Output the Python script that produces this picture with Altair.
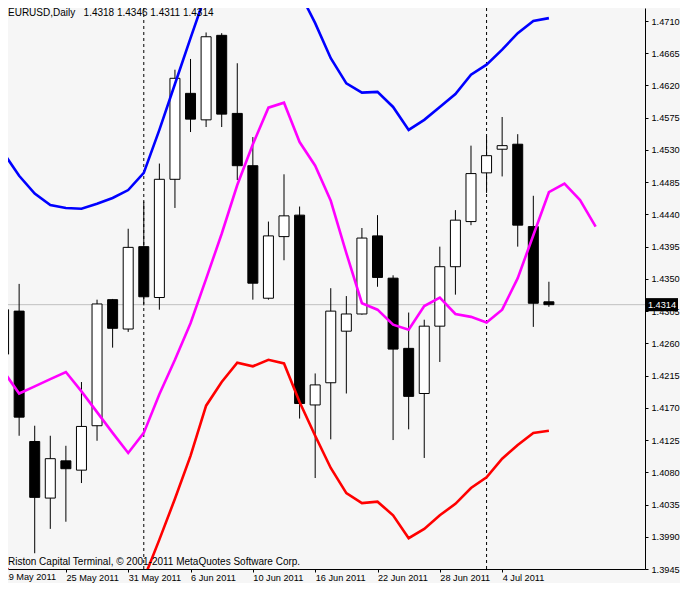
import altair as alt
import pandas as pd

# ---- data ----
dates = ["19 May 2011", "20 May 2011", "23 May 2011", "24 May 2011", "25 May 2011",
         "26 May 2011", "27 May 2011", "30 May 2011", "31 May 2011", "1 Jun 2011",
         "2 Jun 2011", "3 Jun 2011", "6 Jun 2011", "7 Jun 2011", "8 Jun 2011",
         "9 Jun 2011", "10 Jun 2011", "13 Jun 2011", "14 Jun 2011", "15 Jun 2011",
         "16 Jun 2011", "17 Jun 2011", "20 Jun 2011", "21 Jun 2011", "22 Jun 2011",
         "23 Jun 2011", "24 Jun 2011", "27 Jun 2011", "28 Jun 2011", "29 Jun 2011",
         "30 Jun 2011", "1 Jul 2011", "4 Jul 2011", "5 Jul 2011", "6 Jul 2011",
         "7 Jul 2011", "8 Jul 2011", "11 Jul 2011", "12 Jul 2011"]

opens = [1.4245, 1.4305, 1.4123, 1.4044, 1.4096, 1.4083, 1.4145, 1.4321, 1.4280, 1.4395,
         1.4324, 1.4489, 1.4609, 1.4572, 1.4690, 1.4581, 1.4508, 1.4323, 1.4409, 1.4439,
         1.4174, 1.4205, 1.4277, 1.4301, 1.4410, 1.4351, 1.4253, 1.4190, 1.4284, 1.4367,
         1.4430, 1.4498, 1.4531, 1.4538, 1.4423, 1.4318]
highs = [1.4318, 1.4343, 1.4145, 1.4131, 1.4117, 1.4206, 1.4321, 1.4322, 1.4420, 1.4458,
         1.4511, 1.4642, 1.4657, 1.4694, 1.4693, 1.4651, 1.4548, 1.4430, 1.4496, 1.4451,
         1.4218, 1.4337, 1.4326, 1.4421, 1.4439, 1.4355, 1.4303, 1.4293, 1.4395, 1.4446,
         1.4536, 1.4549, 1.4576, 1.4552, 1.4466, 1.4346]
lows = [1.4230, 1.4131, 1.3967, 1.4001, 1.4011, 1.4065, 1.4124, 1.4254, 1.4276, 1.4313,
        1.4307, 1.4449, 1.4555, 1.4562, 1.4562, 1.4488, 1.4321, 1.4321, 1.4376, 1.4155,
        1.4072, 1.4126, 1.4190, 1.4300, 1.4339, 1.4125, 1.4140, 1.4100, 1.4234, 1.4328,
        1.4425, 1.4470, 1.4493, 1.4395, 1.4283, 1.4311]
closes = [1.4307, 1.4157, 1.4045, 1.4099, 1.4085, 1.4144, 1.4315, 1.4281, 1.4394, 1.4325,
          1.4489, 1.4630, 1.4573, 1.4688, 1.4580, 1.4508, 1.4344, 1.4410, 1.4438, 1.4176,
          1.4202, 1.4305, 1.4301, 1.4407, 1.4352, 1.4252, 1.4186, 1.4284, 1.4367, 1.4432,
          1.4497, 1.4522, 1.4536, 1.4425, 1.4316, 1.4314]

upper = [1.4526, 1.4494, 1.4469, 1.4453, 1.4449, 1.4448, 1.4455, 1.4463, 1.4474, 1.4498,
         1.4558, 1.4622, 1.4686, 1.4749, 1.4795, 1.4823, 1.4830, 1.4816, 1.4788, 1.4750,
         1.4707, 1.4658, 1.4623, 1.4610, 1.4611, 1.4590, 1.4558, 1.4572, 1.4590, 1.4608,
         1.4635, 1.4649, 1.4670, 1.4693, 1.4710, 1.4714]
middle = [1.4221, 1.4190, 1.4200, 1.4210, 1.4220, 1.4193, 1.4164, 1.4135, 1.4107, 1.4135,
          1.4189, 1.4237, 1.4288, 1.4350, 1.4413, 1.4481, 1.4538, 1.4589, 1.4596, 1.4541,
          1.4508, 1.4459, 1.4386, 1.4316, 1.4307, 1.4286, 1.4279, 1.4312, 1.4324, 1.4301,
          1.4297, 1.4289, 1.4307, 1.4351, 1.4411, 1.4471, 1.4483, 1.4460, 1.4423]
lower = [1.3953, 1.3921, 1.3895, 1.3874, 1.3863, 1.3860, 1.3866, 1.3881, 1.3902, 1.3931,
         1.3986, 1.4043, 1.4103, 1.4173, 1.4206, 1.4233, 1.4228, 1.4237, 1.4232, 1.4178,
         1.4131, 1.4086, 1.4051, 1.4037, 1.4039, 1.4020, 1.3988, 1.4001, 1.4020, 1.4036,
         1.4058, 1.4073, 1.4099, 1.4118, 1.4135, 1.4138]

tick_idx = [4, 8, 12, 16, 20, 24, 28, 32]
first_label_idx = [0]
separator_idx = [9, 31]
y_ticks = [1.3945, 1.3990, 1.4035, 1.4080, 1.4125, 1.4170, 1.4215, 1.4260, 1.4305,
           1.4350, 1.4395, 1.4440, 1.4485, 1.4530, 1.4575, 1.4620, 1.4665, 1.4710]
last_price = [1.4314]
symbol = "EURUSD,Daily"
copyright_text = "Riston Capital Terminal, \u00a9 2001-2011 MetaQuotes Software Corp."

# ---- tables ----
n = len(opens)
candles = pd.DataFrame({
    "i": list(range(n)), "o": opens, "h": highs, "l": lows, "c": closes,
})
candles["lo"] = candles[["o", "c"]].min(axis=1)
candles["hi"] = candles[["o", "c"]].max(axis=1)
up_df = pd.DataFrame({"i": list(range(len(upper))), "v": upper})
mid_df = pd.DataFrame({"i": list(range(len(middle))), "v": middle})
low_df = pd.DataFrame({"i": list(range(len(lower))), "v": lower})
sep_df = pd.DataFrame({"i": separator_idx})
price_df = pd.DataFrame({"p": last_price, "t": [f"{last_price[0]:.4f}"]})
first_lab_df = pd.DataFrame({"i": first_label_idx, "t": [dates[k] for k in first_label_idx]})
header = symbol + "\u00a0\u00a0 " + " ".join(f"{v:.4f}" for v in [opens[-1], highs[-1], lows[-1], closes[-1]])
header_df = pd.DataFrame({"t": [header]})
copy_df = pd.DataFrame({"t": [copyright_text]})

FONT = "Liberation Sans"
FS = 9.2
FS_NOTE = 10
W, H = 637, 561

xs = alt.Scale(domain=[0.6065, 40.847], nice=False, zero=False)
ys = alt.Scale(domain=[1.394500, 1.472815], nice=False, zero=False)

label_expr = "[" + ",".join("'" + d + "'" for d in dates) + "][datum.value]"
x_axis = alt.Axis(values=tick_idx, labelExpr=label_expr, labelAlign="left",
                  labelBaseline="top", tickSize=3, labelPadding=1, labelOverlap=False,
                  labelFlush=False, grid=False, title=None, domainColor="black",
                  tickColor="black", labelColor="black", labelFont=FONT, labelFontSize=FS)
y_axis = alt.Axis(orient="right", values=y_ticks, format=".4f", tickSize=3, labelPadding=3,
                  labelOverlap=False, labelFlush=False, grid=False, title=None,
                  domainColor="black", tickColor="black", labelColor="black",
                  labelFont=FONT, labelFontSize=FS, labelBaseline="middle")


def X(f):
    return alt.X(f + ":Q", scale=xs, axis=x_axis)


def Y(f):
    return alt.Y(f + ":Q", scale=ys, axis=y_axis)


separators = alt.Chart(sep_df).mark_rule(color="black", strokeWidth=1, strokeDash=[3, 3]).encode(x=X("i"))
price_line = alt.Chart(price_df).mark_rule(color="#c0c0c0", strokeWidth=1).encode(y=Y("p"))

wicks = alt.Chart(candles).mark_rule(color="black", strokeWidth=1).encode(
    x=X("i"), y=Y("l"), y2="h:Q")
bodies = alt.Chart(candles).mark_bar(size=10, stroke="black", strokeWidth=1).encode(
    x=X("i"), y=Y("lo"), y2="hi:Q",
    fill=alt.condition("datum.c >= datum.o", alt.value("white"), alt.value("black")))

line_up = alt.Chart(up_df).mark_line(color="#0000ff", strokeWidth=2.6, clip=True).encode(x=X("i"), y=Y("v"))
line_mid = alt.Chart(mid_df).mark_line(color="#ff00ff", strokeWidth=2.6, clip=True).encode(x=X("i"), y=Y("v"))
line_low = alt.Chart(low_df).mark_line(color="#ff0000", strokeWidth=2.6, clip=True).encode(x=X("i"), y=Y("v"))

first_label = alt.Chart(first_lab_df).mark_text(align="left", baseline="top", font=FONT,
                                                fontSize=FS, color="black").encode(
    x=X("i"), y=alt.value(H + 4), text="t:N")

header_text = alt.Chart(header_df).mark_text(align="left", baseline="top", font=FONT,
                                             fontSize=FS_NOTE, color="black").encode(
    x=alt.value(0), y=alt.value(0), text="t:N")
copy_text = alt.Chart(copy_df).mark_text(align="left", baseline="alphabetic", font=FONT,
                                         fontSize=FS_NOTE, color="black").encode(
    x=alt.value(0), y=alt.value(H - 4), text="t:N")

box = alt.Chart(price_df).mark_point(
    shape="M-1,-0.41L1,-0.41L1,0.41L-1,0.41Z", size=1024, filled=True,
    fill="black", opacity=1, strokeWidth=0).encode(x=alt.value(W + 17), y=Y("p"))
box_text = alt.Chart(price_df).mark_text(align="center", baseline="middle", font=FONT,
                                         fontSize=FS, color="white").encode(
    x=alt.value(W + 17), y=Y("p"), text="t:N")

chart = alt.layer(
    separators, price_line, wicks, bodies, line_up, line_mid, line_low,
    first_label, header_text, copy_text, box, box_text
).properties(
    width=W, height=H,
    padding={"left": 0, "top": 0, "right": 35, "bottom": 14},
    autosize=alt.AutoSizeParams(type="none"),
    background="#f6f6f6",
).configure_view(stroke=None)

chart.save("out.html", embed_options={"renderer": "svg", "actions": False})
